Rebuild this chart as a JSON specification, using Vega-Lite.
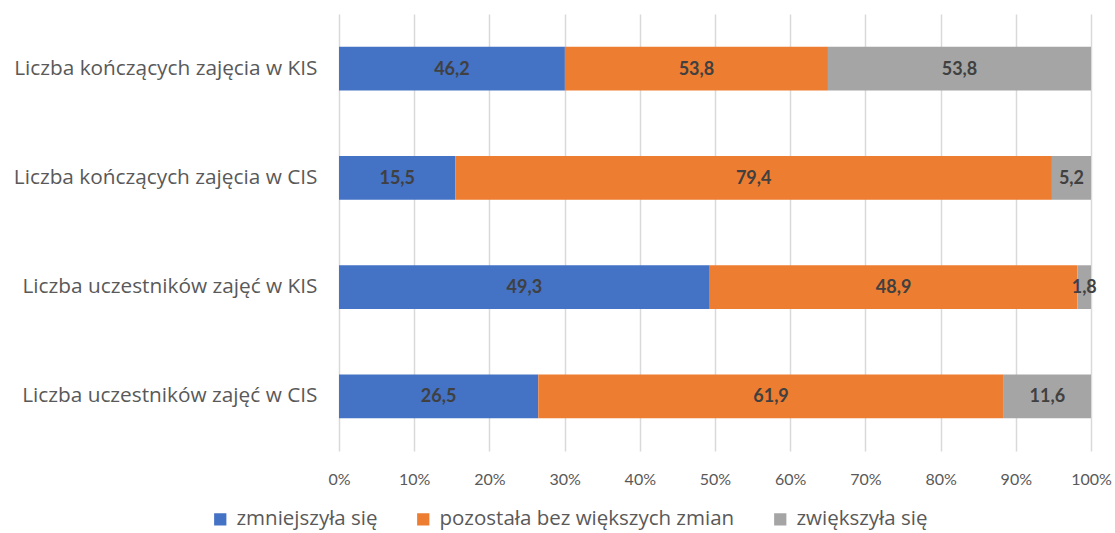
{
  "$schema": "https://vega.github.io/schema/vega-lite/v6.json",
  "width": 752,
  "height": 437,
  "autosize": {"type": "none"},
  "padding": {"left": 339, "top": 14, "right": 24, "bottom": 82},
  "background": "white",
  "config": {
    "view": {"stroke": null},
    "font": "Open Sans",
    "locale": {"number": {"decimal": ",", "thousands": " ", "grouping": [3], "currency": ["", " zł"]}}
  },
  "data": {
    "values": [
      {"kategoria": "Liczba kończących zajęcia w KIS", "seria": "zmniejszyła się", "kolejnosc": 1, "wartosc": 46.2},
      {"kategoria": "Liczba kończących zajęcia w KIS", "seria": "pozostała bez większych zmian", "kolejnosc": 2, "wartosc": 53.8},
      {"kategoria": "Liczba kończących zajęcia w KIS", "seria": "zwiększyła się", "kolejnosc": 3, "wartosc": 53.8},
      {"kategoria": "Liczba kończących zajęcia w CIS", "seria": "zmniejszyła się", "kolejnosc": 1, "wartosc": 15.5},
      {"kategoria": "Liczba kończących zajęcia w CIS", "seria": "pozostała bez większych zmian", "kolejnosc": 2, "wartosc": 79.4},
      {"kategoria": "Liczba kończących zajęcia w CIS", "seria": "zwiększyła się", "kolejnosc": 3, "wartosc": 5.2},
      {"kategoria": "Liczba uczestników zajęć w KIS", "seria": "zmniejszyła się", "kolejnosc": 1, "wartosc": 49.3},
      {"kategoria": "Liczba uczestników zajęć w KIS", "seria": "pozostała bez większych zmian", "kolejnosc": 2, "wartosc": 48.9},
      {"kategoria": "Liczba uczestników zajęć w KIS", "seria": "zwiększyła się", "kolejnosc": 3, "wartosc": 1.8},
      {"kategoria": "Liczba uczestników zajęć w CIS", "seria": "zmniejszyła się", "kolejnosc": 1, "wartosc": 26.5},
      {"kategoria": "Liczba uczestników zajęć w CIS", "seria": "pozostała bez większych zmian", "kolejnosc": 2, "wartosc": 61.9},
      {"kategoria": "Liczba uczestników zajęć w CIS", "seria": "zwiększyła się", "kolejnosc": 3, "wartosc": 11.6}
    ]
  },
  "transform": [
    {"stack": "wartosc", "groupby": ["kategoria"], "offset": "normalize", "sort": [{"field": "kolejnosc", "order": "ascending"}], "as": ["x0", "x1"]},
    {"calculate": "(datum.x0 + datum.x1) / 2", "as": "srodek"}
  ],
  "encoding": {
    "y": {
      "field": "kategoria",
      "type": "nominal",
      "sort": null,
      "scale": {"paddingInner": 0.6, "paddingOuter": 0.3},
      "axis": {
        "title": null,
        "ticks": false,
        "domain": false,
        "labelFontSize": 20.8,
        "labelColor": "#595959",
        "labelPadding": 22,
        "labelLimit": 400
      }
    }
  },
  "layer": [
    {
      "mark": {"type": "bar"},
      "encoding": {
        "x": {
          "field": "x0",
          "type": "quantitative",
          "scale": {"domain": [0, 1], "nice": false},
          "axis": {
            "title": null,
            "format": ".0%",
            "values": [0, 0.1, 0.2, 0.3, 0.4, 0.5, 0.6, 0.7, 0.8, 0.9, 1],
            "labelOverlap": false,
            "labelFlush": false,
            "labelBound": false,
            "domain": false,
            "ticks": false,
            "grid": true,
            "gridColor": "#d9d9d9",
            "gridWidth": 1.5,
            "labelFont": "Lato",
            "labelFontSize": 16,
            "labelColor": "#595959",
            "labelPadding": 20
          }
        },
        "x2": {"field": "x1"},
        "color": {
          "field": "seria",
          "type": "nominal",
          "scale": {
            "domain": ["zmniejszyła się", "pozostała bez większych zmian", "zwiększyła się"],
            "range": ["#4472C4", "#ED7D31", "#A5A5A5"]
          },
          "legend": {
            "title": null,
            "orient": "none",
            "direction": "horizontal",
            "legendX": -129,
            "legendY": 495,
            "symbolType": "square",
            "symbolSize": 150,
            "symbolStrokeWidth": 0,
            "labelFontSize": 20.5,
            "labelColor": "#595959",
            "columnPadding": 35,
            "labelOffset": 6,
            "labelLimit": 400
          }
        }
      }
    },
    {
      "mark": {"type": "text", "font": "Lato", "fontWeight": "bold", "fontSize": 18, "color": "#404040", "baseline": "middle", "align": "center", "dy": 1},
      "encoding": {
        "x": {"field": "srodek", "type": "quantitative"},
        "text": {"field": "wartosc", "type": "quantitative", "format": ".1f"}
      }
    }
  ]
}
